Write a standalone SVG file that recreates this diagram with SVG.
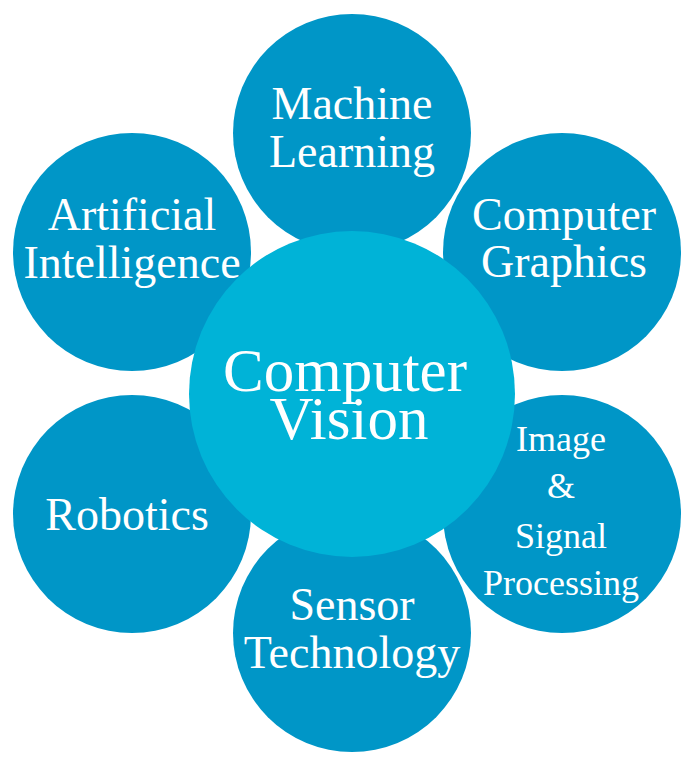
<svg xmlns="http://www.w3.org/2000/svg" width="694" height="766" viewBox="0 0 694 766">
<style>
.outer{fill:#0096C7}
.center{fill:#00B3D7}
text{fill:#FFFFFF;text-anchor:middle}
.t{font-size:46px}
.s{font-size:36px}
.c{font-size:61px}
</style>
<rect width="694" height="766" fill="#FFFFFF"/>
<g id="connectors"/>
<g font-family="Liberation Serif, serif">
<g id="machine-learning">
<circle class="outer" cx="352" cy="133" r="119"/>
<text class="t" x="352" y="119">Machine</text>
<text class="t" x="352" y="167">Learning</text>
</g>
<g id="artificial-intelligence">
<circle class="outer" cx="132" cy="252" r="119"/>
<text class="t" x="132" y="230">Artificial</text>
<text class="t" x="132" y="278">Intelligence</text>
</g>
<g id="computer-graphics">
<circle class="outer" cx="562" cy="252" r="119"/>
<text class="t" x="564" y="230">Computer</text>
<text class="t" x="564" y="277">Graphics</text>
</g>
<g id="robotics">
<circle class="outer" cx="132" cy="514" r="119"/>
<text class="t" x="127" y="530">Robotics</text>
</g>
<g id="image-signal-processing">
<circle class="outer" cx="562" cy="514" r="119"/>
<text class="s" x="561" y="451">Image</text>
<text class="s" x="561" y="498">&amp;</text>
<text class="s" x="561" y="548">Signal</text>
<text class="s" x="561" y="595">Processing</text>
</g>
<g id="sensor-technology">
<circle class="outer" cx="352" cy="633" r="119"/>
<text class="t" x="352" y="620">Sensor</text>
<text class="t" x="352" y="668">Technology</text>
</g>
<g id="computer-vision">
<circle class="center" cx="352" cy="394" r="163"/>
<text class="c" x="345" y="391">Computer</text>
<text class="c" x="349" y="439">Vision</text>
</g>
</g>
</svg>
